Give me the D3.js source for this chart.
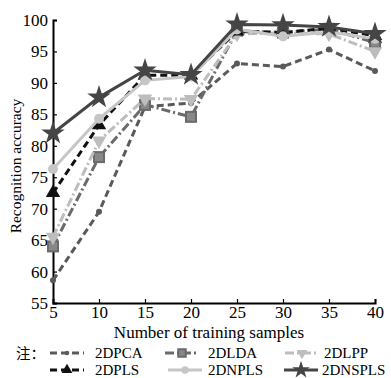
<!DOCTYPE html>
<html><head><meta charset="utf-8">
<script src="https://cdn.jsdelivr.net/npm/d3@7"></script>
<style>body{margin:0;background:#fff}svg{display:block}</style>
</head><body><svg id="c" width="391" height="378"></svg>
<script>
const xValues = [5,10,15,20,25,30,35,40];
const yTicks = [55,60,65,70,75,80,85,90,95,100];
const seriesNames = ["2DPCA","2DLDA","2DLPP","2DPLS","2DNPLS","2DNSPLS"];
const pca   = [58.6,69.5,86.2,86.8,93.1,92.6,95.3,91.9];
const lda   = [64.0,78.2,86.5,84.6,98.3,98.0,98.6,96.4];
const lpp   = [65.5,80.8,87.5,87.4,97.8,97.9,97.8,95.0];
const pls   = [72.5,83.3,91.2,91.2,98.2,98.0,98.7,97.5];
const npls  = [76.3,84.3,90.4,91.0,98.5,97.4,98.1,97.0];
const nspls = [82.0,87.7,92.0,91.3,99.3,99.2,98.9,97.8];

const styles = [
  {color:"#5a5a5a", dash:"7,4", marker:"dot"},
  {color:"#6a6a6a", dash:"9,3,2,3", marker:"square"},
  {color:"#bdbdbd", dash:"9,3,2,3", marker:"tridown"},
  {color:"#111111", dash:"7,4", marker:"triup"},
  {color:"#c6c6c6", dash:null, marker:"circle"},
  {color:"#454545", dash:null, marker:"star"}
];
const allData = [pca,lda,lpp,pls,npls,nspls];

const svg = d3.select("#c");
const font = "'Liberation Serif','Times New Roman',serif";
const x = d3.scaleLinear().domain([5,40]).range([53,375]);
const y = d3.scaleLinear().domain([55,100]).range([303,20]);

const xAxis = d3.axisBottom(x).tickValues(xValues).tickSize(-4).tickPadding(3);
const gx = svg.append("g").attr("transform","translate(0,303)").call(xAxis);
gx.select(".domain").attr("stroke","#000").attr("stroke-width",2);
gx.selectAll("line").attr("stroke","#000").attr("stroke-width",1.2);
gx.selectAll("text").attr("font-family",font).attr("font-size",17).attr("fill","#000").attr("dy","0.7em");

const yAxis = d3.axisLeft(y).tickValues(yTicks).tickSize(-4).tickPadding(5);
const gy = svg.append("g").attr("transform","translate(53,0)").call(yAxis);
gy.select(".domain").attr("stroke","#000").attr("stroke-width",2);
gy.selectAll("line").attr("stroke","#000").attr("stroke-width",1.2);
gy.selectAll("text").attr("font-family",font).attr("font-size",17).attr("fill","#000");

svg.append("text").attr("transform","translate(21,166) rotate(-90)")
  .attr("text-anchor","middle").attr("font-family",font).attr("font-size",15.5).text("Recognition accuracy");
svg.append("text").attr("x",209).attr("y",338)
  .attr("text-anchor","middle").attr("font-family",font).attr("font-size",17).text("Number of training samples");

function drawMarker(g, type, cx, cy, color, s){
  s = s||1;
  if(type==="dot"){
    g.append("circle").attr("cx",cx).attr("cy",cy).attr("r",3*s).attr("fill",color);
  } else if(type==="square"){
    g.append("rect").attr("x",cx-5*s).attr("y",cy-5*s).attr("width",10*s).attr("height",10*s)
      .attr("fill","#888").attr("stroke",color).attr("stroke-width",2);
  } else if(type==="tridown"){
    g.append("path").attr("d",d3.symbol(d3.symbolTriangle,90*s*s)()).attr("transform",`translate(${cx},${cy}) rotate(180)`).attr("fill",color);
  } else if(type==="triup"){
    g.append("path").attr("d",d3.symbol(d3.symbolTriangle,90*s*s)()).attr("transform",`translate(${cx},${cy})`).attr("fill",color);
  } else if(type==="circle"){
    g.append("circle").attr("cx",cx).attr("cy",cy).attr("r",5*s).attr("fill",color);
  } else if(type==="star"){
    g.append("path").attr("d",d3.symbol(d3.symbolStar,170*s*s)()).attr("transform",`translate(${cx},${cy})`).attr("fill",color);
  }
}

const line = d3.line().x((d,i)=>x(xValues[i])).y(d=>y(d));
const plot = svg.append("g");
allData.forEach((data,k)=>{
  const st = styles[k];
  const g = plot.append("g");
  g.append("path").datum(data).attr("d",line).attr("fill","none")
    .attr("stroke",st.color).attr("stroke-width",3)
    .attr("stroke-dasharray",st.dash||null);
  data.forEach((v,i)=>drawMarker(g, st.marker, x(xValues[i]), y(v), st.color, 1));
});

const leg = svg.append("g");
leg.append("text").attr("x",16).attr("y",359).attr("font-family","'Noto Sans CJK SC',sans-serif").attr("font-size",14.5).text("注：");
const legPos = [
  {lx:50,tx:95,y:353},{lx:165,tx:208,y:353},{lx:285,tx:324,y:353},
  {lx:50,tx:95,y:370},{lx:168,tx:208,y:370},{lx:284,tx:322,y:370}
];
seriesNames.forEach((name,k)=>{
  const st = styles[k], p = legPos[k];
  const g = leg.append("g");
  g.append("line").attr("x1",p.lx).attr("x2",p.lx+34).attr("y1",p.y).attr("y2",p.y)
    .attr("stroke",st.color).attr("stroke-width",3).attr("stroke-dasharray",st.dash||null);
  drawMarker(g, st.marker, p.lx+17, p.y, st.color, 0.75);
  g.append("text").attr("x",p.tx).attr("y",p.y+5).attr("font-family",font).attr("font-size",15).text(name);
});
</script></body></html>
